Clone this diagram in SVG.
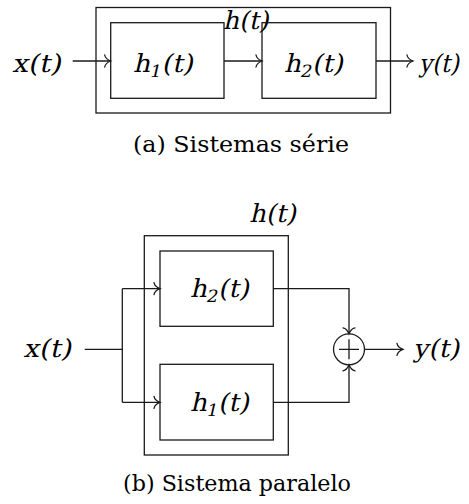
<svg xmlns="http://www.w3.org/2000/svg" width="469" height="504" viewBox="0 0 469 504">
  <defs>
    <style>
      .box { fill: none; stroke: #1a1a1a; stroke-width: 1.3; }
      .wire { fill: none; stroke: #1a1a1a; stroke-width: 1.3; }
      .arrow { marker-end: url(#to); }
      .math { font-family: "DejaVu Serif", "Noto Serif", serif; font-size: 25px; fill: #000; }
      .sub { font-size: 17px; }
      .cap { font-family: "DejaVu Serif", "Noto Serif", serif; font-size: 23px; fill: #000; }
    </style>
    <!-- curved open arrow tip, in the style of TikZ "to" -->
    <marker id="to" markerUnits="userSpaceOnUse" markerWidth="16" markerHeight="16" viewBox="-9 -8 11 16" refX="0" refY="0" orient="auto">
      <path d="M-6,-6 C-5.4,-2.8 -1.8,-0.7 0,0 C-1.8,0.7 -5.4,2.8 -6,6" fill="none" stroke="#1a1a1a" stroke-width="1.3" stroke-linecap="round"/>
    </marker>
  </defs>

  <!-- (a) series connection -->
  <g id="serie">
    <g id="a-h">
      <rect class="box" x="96" y="7.5" width="294.5" height="105.5"/>
      <text class="math" transform="translate(222.7,29) skewX(-13)" textLength="46" lengthAdjust="spacingAndGlyphs">h(t)</text>
    </g>
    <g id="a-h1">
      <rect class="box" x="110.7" y="22.7" width="113.3" height="75.6"/>
      <text class="math" transform="translate(133,72) skewX(-13)" textLength="60" lengthAdjust="spacingAndGlyphs">h<tspan class="sub" dy="5">1</tspan><tspan dy="-5">(t)</tspan></text>
    </g>
    <g id="a-h2">
      <rect class="box" x="262" y="22.7" width="114" height="75.6"/>
      <text class="math" transform="translate(284,72) skewX(-13)" textLength="59" lengthAdjust="spacingAndGlyphs">h<tspan class="sub" dy="5">2</tspan><tspan dy="-5">(t)</tspan></text>
    </g>
    <g id="a-x">
      <text class="math" transform="translate(12,72) skewX(-13)" textLength="49" lengthAdjust="spacingAndGlyphs">x(t)</text>
    </g>
    <g id="a-y">
      <text class="math" transform="translate(419,72) skewX(-13)" textLength="40" lengthAdjust="spacingAndGlyphs">y(t)</text>
    </g>
    <g id="a-connectors">
      <line class="wire arrow" x1="72.7" y1="61" x2="110.7" y2="61"/>
      <line class="wire arrow" x1="224" y1="61" x2="262" y2="61"/>
      <line class="wire arrow" x1="376" y1="61" x2="413" y2="61"/>
    </g>
    <text class="cap" x="133" y="152" textLength="216" lengthAdjust="spacingAndGlyphs">(a) Sistemas série</text>
  </g>

  <!-- (b) parallel connection -->
  <g id="paralelo">
    <g id="b-h">
      <rect class="box" x="144.3" y="235.7" width="144" height="219.3"/>
      <text class="math" transform="translate(249.3,222) skewX(-13)" textLength="46.7" lengthAdjust="spacingAndGlyphs">h(t)</text>
    </g>
    <g id="b-h2">
      <rect class="box" x="160" y="251" width="113.3" height="75.3"/>
      <text class="math" transform="translate(190,297) skewX(-13)" textLength="59" lengthAdjust="spacingAndGlyphs">h<tspan class="sub" dy="5">2</tspan><tspan dy="-5">(t)</tspan></text>
    </g>
    <g id="b-h1">
      <rect class="box" x="160" y="364.3" width="113.3" height="75.7"/>
      <text class="math" transform="translate(190,411) skewX(-13)" textLength="59" lengthAdjust="spacingAndGlyphs">h<tspan class="sub" dy="5">1</tspan><tspan dy="-5">(t)</tspan></text>
    </g>
    <g id="b-sum">
      <circle class="box" cx="349" cy="349.3" r="15.5"/>
      <path class="wire" d="M339,349.3 H359 M349,339.3 V359.3"/>
    </g>
    <g id="b-x">
      <text class="math" transform="translate(23.3,357) skewX(-13)" textLength="48" lengthAdjust="spacingAndGlyphs">x(t)</text>
    </g>
    <g id="b-y">
      <text class="math" transform="translate(413.3,357) skewX(-13)" textLength="46" lengthAdjust="spacingAndGlyphs">y(t)</text>
    </g>
    <g id="b-connectors">
      <line class="wire" x1="84.7" y1="349.3" x2="122.3" y2="349.3"/>
      <line class="wire" x1="122.3" y1="288.7" x2="122.3" y2="402.3"/>
      <line class="wire arrow" x1="122.3" y1="288.7" x2="160" y2="288.7"/>
      <line class="wire arrow" x1="122.3" y1="402.3" x2="160" y2="402.3"/>
      <polyline class="wire arrow" points="273.3,288.7 349,288.7 349,333.8"/>
      <polyline class="wire arrow" points="273.3,402.3 349,402.3 349,364.8"/>
      <line class="wire arrow" x1="364.5" y1="349.3" x2="403" y2="349.3"/>
    </g>
    <text class="cap" x="123" y="491" textLength="228" lengthAdjust="spacingAndGlyphs">(b) Sistema paralelo</text>
  </g>
</svg>
